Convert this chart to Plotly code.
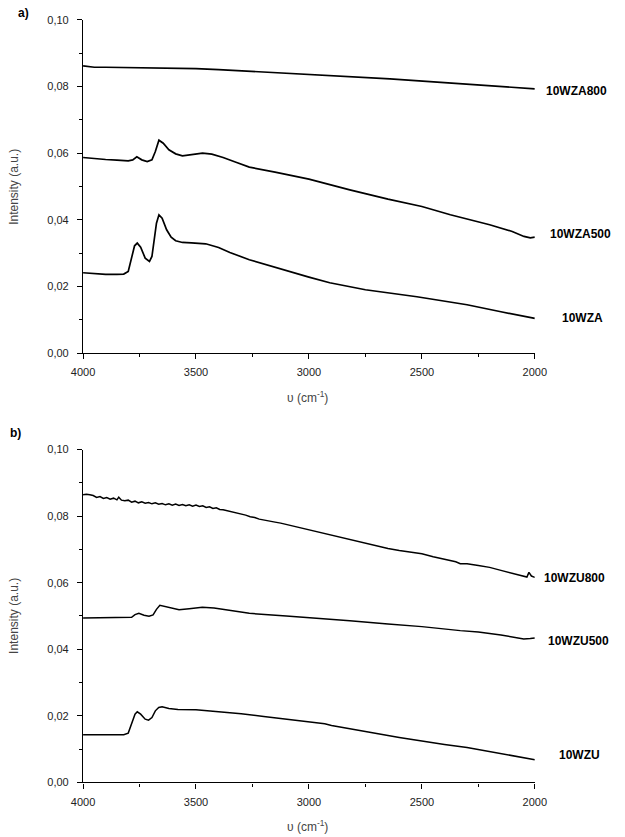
import plotly.graph_objects as go

W, H = 625, 837

# ---------------- data: panel a ----------------
wn_a800 = [4000, 3950, 3900, 3800, 3700, 3600, 3500, 3400, 3264, 3000, 2800, 2641, 2400, 2200, 2050, 2000]
a800 = [0.0862, 0.0858, 0.0858, 0.0857, 0.0855, 0.0856, 0.0854, 0.0851, 0.0846, 0.0838, 0.0830, 0.0823, 0.0812, 0.0802, 0.0795, 0.0793]

wn_a500 = [4000, 3950, 3900, 3850, 3800, 3780, 3762, 3740, 3716, 3695, 3680, 3664, 3645, 3620, 3590, 3560,
           3520, 3471, 3430, 3380, 3320, 3264, 3150, 3000, 2819, 2650, 2500, 2374, 2200, 2100, 2048, 2020, 2000]
a500 = [0.0587, 0.0583, 0.0581, 0.0579, 0.0577, 0.0580, 0.0589, 0.0580, 0.0575, 0.0580, 0.0605, 0.0639, 0.0630,
        0.0610, 0.0598, 0.0592, 0.0595, 0.0600, 0.0597, 0.0587, 0.0572, 0.0558, 0.0543, 0.0522, 0.0490, 0.0462,
        0.0440, 0.0415, 0.0385, 0.0365, 0.0350, 0.0346, 0.0348]

wn_a = [4000, 3950, 3900, 3850, 3820, 3800, 3785, 3772, 3760, 3745, 3725, 3706, 3695, 3685, 3675, 3664, 3650,
        3630, 3610, 3590, 3560, 3520, 3457, 3400, 3350, 3264, 3150, 3000, 2908, 2750, 2522, 2300, 2150, 2000]
a_base = [0.0241, 0.0238, 0.0236, 0.0236, 0.0237, 0.0245, 0.0290, 0.0322, 0.0330, 0.0318, 0.0285, 0.0275, 0.0290,
          0.0340, 0.0390, 0.0415, 0.0405, 0.0370, 0.0348, 0.0337, 0.0332, 0.0331, 0.0328, 0.0317, 0.0302, 0.0280,
          0.0257, 0.0228, 0.0211, 0.0190, 0.0169, 0.0145, 0.0124, 0.0104]

# ---------------- data: panel b ----------------
wn_u800 = [4000, 3985, 3970, 3955, 3940, 3925, 3910, 3895, 3880, 3865, 3850, 3842, 3830, 3815, 3800, 3785, 3770,
           3755, 3740, 3725, 3710, 3695, 3680, 3665, 3650, 3635, 3620, 3605, 3590, 3575, 3560, 3545, 3530, 3515,
           3500, 3485, 3470, 3455, 3440, 3425, 3410, 3395, 3380, 3360, 3340, 3320, 3300, 3280, 3260, 3240, 3220,
           3200, 3175, 3150, 3125, 3100, 3075, 3050, 3025, 3000, 2975, 2950, 2925, 2900, 2875, 2850, 2825, 2800,
           2750, 2700, 2650, 2600, 2550, 2500, 2450, 2400, 2350, 2330, 2300, 2250, 2200, 2150, 2100, 2075, 2050,
           2035, 2026, 2015, 2000]
u800 = [0.0864, 0.0866, 0.0864, 0.0862, 0.0856, 0.0859, 0.0853, 0.0856, 0.0851, 0.0854, 0.0849, 0.0857, 0.0848,
        0.0846, 0.0848, 0.0842, 0.0845, 0.0840, 0.0843, 0.0839, 0.0841, 0.0837, 0.0840, 0.0836, 0.0838, 0.0834,
        0.0837, 0.0833, 0.0836, 0.0832, 0.0835, 0.0831, 0.0834, 0.0830, 0.0833, 0.0829, 0.0831, 0.0826, 0.0828,
        0.0823, 0.0825, 0.0820, 0.0819, 0.0816, 0.0813, 0.0810, 0.0806, 0.0803, 0.0798, 0.0796, 0.0791, 0.0789,
        0.0786, 0.0782, 0.0779, 0.0775, 0.0772, 0.0768, 0.0764, 0.0759, 0.0756, 0.0752, 0.0748, 0.0742, 0.0739,
        0.0734, 0.0731, 0.0727, 0.0718, 0.0711, 0.0703, 0.0697, 0.0692, 0.0687, 0.0678, 0.0670, 0.0663, 0.0657,
        0.0657, 0.0652, 0.0646, 0.0637, 0.0628, 0.0624, 0.0618, 0.0617, 0.0631, 0.0620, 0.0616]

wn_u500 = [4000, 3900, 3800, 3785, 3770, 3753, 3730, 3708, 3690, 3675, 3660, 3640, 3610, 3575, 3530, 3472, 3420,
           3350, 3264, 3100, 2950, 2819, 2650, 2500, 2330, 2250, 2150, 2049, 2020, 2000]
u500 = [0.0494, 0.0494, 0.0494, 0.0496, 0.0504, 0.0508, 0.0502, 0.0499, 0.0503, 0.0520, 0.0532, 0.0529, 0.0523,
        0.0519, 0.0522, 0.0526, 0.0524, 0.0516, 0.0508, 0.0500, 0.0493, 0.0486, 0.0476, 0.0468, 0.0456, 0.0452,
        0.0443, 0.0431, 0.0432, 0.0434]

wn_u = [4000, 3900, 3820, 3800, 3785, 3770, 3760, 3745, 3725, 3710, 3695, 3680, 3665, 3650, 3620, 3580, 3500,
        3400, 3300, 3200, 3100, 3000, 2930, 2900, 2800, 2700, 2600, 2500, 2400, 2300, 2200, 2100, 2000]
u_base = [0.0143, 0.0142, 0.0143, 0.0148, 0.0180, 0.0205, 0.0212, 0.0205, 0.0190, 0.0187, 0.0195, 0.0215, 0.0225,
          0.0227, 0.0222, 0.0219, 0.0218, 0.0213, 0.0206, 0.0198, 0.0190, 0.0180, 0.0176, 0.0171, 0.0160, 0.0147,
          0.0135, 0.0124, 0.0114, 0.0105, 0.0092, 0.0080, 0.0068]

x_ticks = [4000, 3500, 3000, 2500, 2000]
y_ticks = [0.00, 0.02, 0.04, 0.06, 0.08, 0.10]
labels_a = ["10WZA800", "10WZA500", "10WZA"]
labels_b = ["10WZU800", "10WZU500", "10WZU"]

FONT = "Liberation Sans, Arial, sans-serif"

# map target pixel positions to paper fractions (calibrated to the rendered plot area)
def px_x(p):
    return (p - 13.8) / 598.0

def px_y(p):
    return 1 - (p - 6.8) / 823.0

fig = go.Figure()
line = dict(color="black", width=1.7)
for wn, v in [(wn_a800, a800), (wn_a500, a500), (wn_a, a_base)]:
    fig.add_trace(go.Scatter(x=wn, y=v, mode="lines", line=line, xaxis="x", yaxis="y", showlegend=False))
for wn, v in [(wn_u800, u800), (wn_u500, u500), (wn_u, u_base)]:
    fig.add_trace(go.Scatter(x=wn, y=v, mode="lines", line=dict(color="black", width=1.5),
                             xaxis="x2", yaxis="y2", showlegend=False))

xdom = [px_x(84.5), px_x(534)]
common_x = dict(range=[4000, 2000], domain=xdom, showline=True, linecolor="black", linewidth=1.3,
                showgrid=False, zeroline=False, ticks="outside", ticklen=5, tickcolor="black", tickwidth=1,
                tickvals=x_ticks, tickformat="d", ticklabelstandoff=4,
                tickfont=dict(family=FONT, size=11, color="#222"),
                minor=dict(dtick=250, tick0=2000, ticks="outside", ticklen=3, tickcolor="black"))
common_y = dict(range=[0, 0.10], showline=True, linecolor="black", linewidth=1.3,
                showgrid=False, zeroline=False, ticks="outside", ticklen=5, tickcolor="black", tickwidth=1,
                tickvals=y_ticks, tickformat=".2f", ticklabelstandoff=6,
                tickfont=dict(family=FONT, size=11, color="#222"),
                minor=dict(dtick=0.01, tick0=0, ticks="outside", ticklen=3, tickcolor="black"))

fig.update_layout(
    width=W, height=H, margin=dict(l=0, r=0, t=0, b=0),
    paper_bgcolor="white", plot_bgcolor="white", separators=",.",
    xaxis=dict(common_x, anchor="y"),
    yaxis=dict(common_y, domain=[px_y(353), px_y(20.7)], anchor="x"),
    xaxis2=dict(common_x, anchor="y2"),
    yaxis2=dict(common_y, domain=[px_y(781.3), px_y(449.3)], anchor="x2"),
)

ann = []
for txt, (x, y) in zip(labels_a, [(543, 92), (547, 234), (559, 318)]):
    ann.append(dict(text="<b>%s</b>" % txt, x=px_x(x), y=px_y(y), xref="paper", yref="paper",
                    xanchor="left", yanchor="middle", showarrow=False, font=dict(family=FONT, size=12, color="black")))
for txt, (x, y) in zip(labels_b, [(541, 577), (545, 640), (556, 754)]):
    ann.append(dict(text="<b>%s</b>" % txt, x=px_x(x), y=px_y(y), xref="paper", yref="paper",
                    xanchor="left", yanchor="middle", showarrow=False, font=dict(family=FONT, size=12, color="black")))
ann.append(dict(text="<b>a)</b>", x=px_x(18), y=px_y(14), xref="paper", yref="paper", xanchor="left",
                yanchor="middle", showarrow=False, font=dict(family=FONT, size=12, color="black")))
ann.append(dict(text="<b>b)</b>", x=px_x(10), y=px_y(433), xref="paper", yref="paper", xanchor="left",
                yanchor="middle", showarrow=False, font=dict(family=FONT, size=12, color="black")))
for yc in [187, 615]:
    ann.append(dict(text="Intensity (a.u.)", x=px_x(15), y=px_y(yc), xref="paper", yref="paper",
                    xanchor="center", yanchor="middle", textangle=-90, showarrow=False,
                    font=dict(family=FONT, size=12, color="#444")))
for yc in [397, 825]:
    ann.append(dict(text="υ (cm<sup>-1</sup>)", x=px_x(308), y=px_y(yc), xref="paper", yref="paper",
                    xanchor="center", yanchor="middle", showarrow=False,
                    font=dict(family=FONT, size=12, color="#444")))
fig.update_layout(annotations=ann)

fig.write_html("out.html")
